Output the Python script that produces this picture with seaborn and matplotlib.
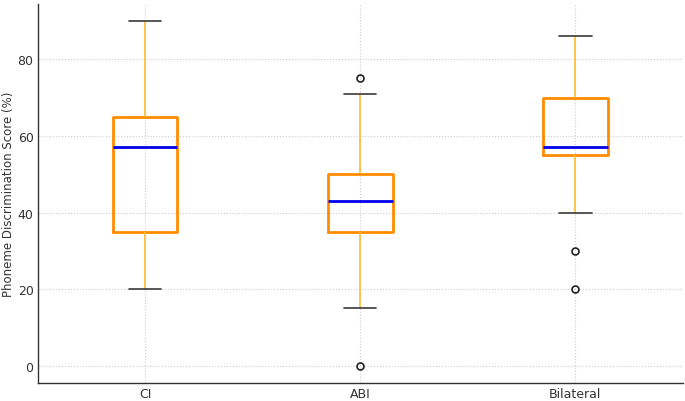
import pandas as pd
import numpy as np
import matplotlib
matplotlib.use("Agg")
import matplotlib.pyplot as plt
import seaborn as sns

# --- DATA (raw scores chosen to reproduce the box statistics) ---
ci_scores = [20, 35, 57, 65, 90]
abi_scores = [0, 15, 35, 40, 43, 45, 50, 71, 75]
bilateral_scores = [20, 30, 40, 55, 55, 56, 57, 60, 65, 70, 75, 80, 86]
groups = ["CI", "ABI", "Bilateral"]

# --- STYLE ---
BOX_ORANGE = "#FF8C00"
WHISKER_GOLD = "#FFBB33"
MEDIAN_BLUE = "#0000EE"
CAP_GRAY = "#3a3a3a"
sns.set_theme(style="white")
plt.rcParams['font.family'] = ['DejaVu Sans']

df = pd.DataFrame({
    "group": ["CI"] * len(ci_scores) + ["ABI"] * len(abi_scores) + ["Bilateral"] * len(bilateral_scores),
    "score": ci_scores + abi_scores + bilateral_scores,
})

fig, ax = plt.subplots(figsize=(6.85, 4.02), dpi=100)

sns.boxplot(
    data=df, x="group", y="score", order=groups, ax=ax, width=0.3,
    fill=False, linewidth=2,
    boxprops=dict(color=BOX_ORANGE, linewidth=2),
    medianprops=dict(color=MEDIAN_BLUE, linewidth=2),
    whiskerprops=dict(color=WHISKER_GOLD, linewidth=1.2),
    capprops=dict(color=CAP_GRAY, linewidth=1.2),
    flierprops=dict(marker="o", markerfacecolor="none", markeredgecolor="#222222",
                    markersize=5, markeredgewidth=1.2),
)

ax.set_xlim(-0.5, 2.5)
ax.set_ylim(-4.5, 94.5)
ax.set_yticks([0, 20, 40, 60, 80])
ax.set_xlabel("")
ax.set_ylabel("Phoneme Discrimination Score (%)", fontsize=8.5, color="#333333", labelpad=2)
ax.tick_params(axis="both", labelsize=9, colors="#333333")
ax.tick_params(axis="x", length=2, pad=1)
ax.tick_params(axis="y", length=0, pad=3)
ax.grid(True, linestyle=":", color="#cccccc", linewidth=0.8)
ax.set_axisbelow(True)
for side in ["top", "right"]:
    ax.spines[side].set_visible(False)
for side in ["left", "bottom"]:
    ax.spines[side].set_color("#333333")
    ax.spines[side].set_linewidth(1.0)

fig.subplots_adjust(left=0.055, right=0.997, top=0.988, bottom=0.045)
fig.savefig("out.png", dpi=100)
plt.close(fig)
